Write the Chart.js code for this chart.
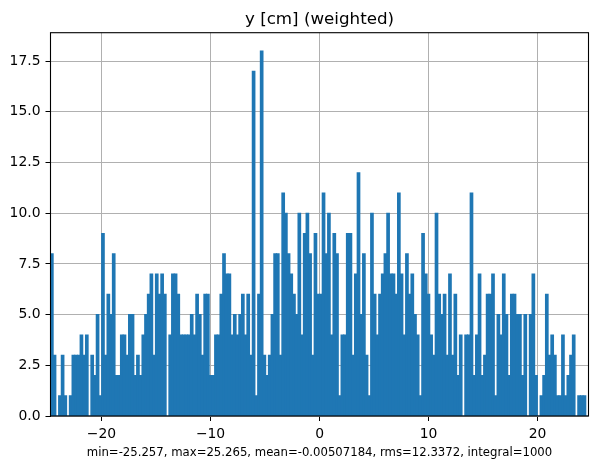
<!DOCTYPE html>
<html>
<head>
<meta charset="utf-8">
<script src="https://cdn.jsdelivr.net/npm/chart.js@4/dist/chart.umd.min.js"></script>
<style>
    html, body { margin: 0; padding: 0; background: #fff; }
    canvas { display: block; }
</style>
</head>
<body>
<canvas id="myChart" width="598" height="468"></canvas>
<script>
// histogram range is mean +- 2*rms, 200 equal bins
const X_LO = -24.6795;
const X_HI = 24.6693;
const counts = [
    8, 3, 0, 1, 3, 1, 0, 1, 3, 3, 3, 4, 3, 4, 0, 3, 2, 5, 1, 9,
    3, 6, 5, 8, 2, 2, 4, 4, 3, 5, 5, 2, 3, 2, 4, 5, 6, 7, 3, 7,
    6, 7, 6, 0, 4, 7, 7, 6, 4, 4, 4, 4, 5, 4, 6, 5, 3, 6, 6, 2,
    2, 4, 4, 6, 8, 7, 7, 4, 5, 4, 5, 6, 4, 6, 3, 17, 1, 6, 18, 3,
    2, 3, 5, 8, 8, 3, 11, 10, 8, 7, 6, 5, 10, 4, 9, 10, 8, 3, 9, 6,
    6, 11, 8, 10, 4, 9, 8, 1, 4, 4, 9, 9, 3, 7, 12, 5, 8, 3, 1, 10,
    6, 4, 6, 7, 8, 10, 7, 7, 6, 11, 7, 4, 8, 6, 7, 5, 4, 1, 9, 7,
    6, 4, 3, 10, 6, 5, 6, 3, 7, 3, 6, 2, 4, 0, 4, 4, 11, 2, 4, 7,
    2, 3, 6, 6, 7, 1, 5, 4, 7, 5, 2, 6, 6, 5, 5, 2, 5, 0, 5, 7,
    2, 0, 1, 2, 6, 3, 4, 3, 1, 1, 4, 1, 2, 3, 4, 0, 1, 1, 1, 0
];
const xTicks = [-20, -10, 0, 10, 20];
const yTicks = [0, 2.5, 5, 7.5, 10, 12.5, 15, 17.5];
const Y_MAX = 18.9;
const titleText = 'y [cm] (weighted)';
const statsText = 'min=-25.257, max=25.265, mean=-0.00507184, rms=12.3372, integral=1000';

const binW = (X_HI - X_LO) / counts.length;
const points = counts.map((c, i) => ({x: X_LO + (i + 0.5) * binW, y: c}));

const FONT = 'DejaVu Sans';

// axes frame plus title and stats line
const framePlugin = {
    id: 'frame',
    afterDraw(chart) {
        const {ctx, chartArea: a} = chart;
        ctx.save();
        ctx.strokeStyle = '#000';
        ctx.lineWidth = 1.1;
        ctx.strokeRect(a.left, a.top, a.right - a.left, a.bottom - a.top);
        ctx.fillStyle = '#000';
        ctx.textAlign = 'center';
        ctx.textBaseline = 'alphabetic';
        const cx = (a.left + a.right) / 2;
        ctx.font = '16.7px "' + FONT + '"';
        ctx.fillText(titleText, cx, a.top - 8.3);
        ctx.font = '11.7px "' + FONT + '"';
        ctx.fillText(statsText, cx, 456);
        ctx.restore();
    }
};

const fmtX = v => v < 0 ? '\u2212' + (-v) : String(v);

new Chart(document.getElementById('myChart'), {
    type: 'bar',
    data: {
        datasets: [{
            data: points,
            backgroundColor: '#1f77b4',
            borderWidth: 0,
            barPercentage: 1,
            categoryPercentage: 1,
            inflateAmount: 0.5   // closes the antialiasing seams between bins
        }]
    },
    options: {
        responsive: false,
        animation: false,
        devicePixelRatio: 1,
        layout: {
            padding: {top: 32.7, right: 9.5, bottom: 0, left: 0}
        },
        plugins: {
            legend: {display: false},
            tooltip: {enabled: false}
        },
        scales: {
            x: {
                type: 'linear',
                min: X_LO,
                max: X_HI,
                offset: false,
                z: 1,
                afterFit(scale) { scale.height = 52; },
                afterBuildTicks(scale) { scale.ticks = xTicks.map(v => ({value: v})); },
                grid: {
                    offset: false,
                    color: '#b0b0b0',
                    lineWidth: 1,
                    tickColor: '#000',
                    tickLength: 5
                },
                border: {display: false},
                ticks: {
                    color: '#000',
                    padding: 5,
                    maxRotation: 0,
                    font: {family: FONT, size: 13.9},
                    callback: fmtX
                }
            },
            y: {
                min: 0,
                max: Y_MAX,
                z: 1,
                afterFit(scale) { scale.width = 50.5; },
                afterBuildTicks(scale) { scale.ticks = yTicks.map(v => ({value: v})); },
                grid: {
                    color: '#b0b0b0',
                    lineWidth: 1,
                    tickColor: '#000',
                    tickLength: 5
                },
                border: {display: false},
                ticks: {
                    color: '#000',
                    padding: 5,
                    font: {family: FONT, size: 13.9},
                    callback: v => v.toFixed(1)
                }
            }
        }
    },
    plugins: [framePlugin]
});
</script>
</body>
</html>
